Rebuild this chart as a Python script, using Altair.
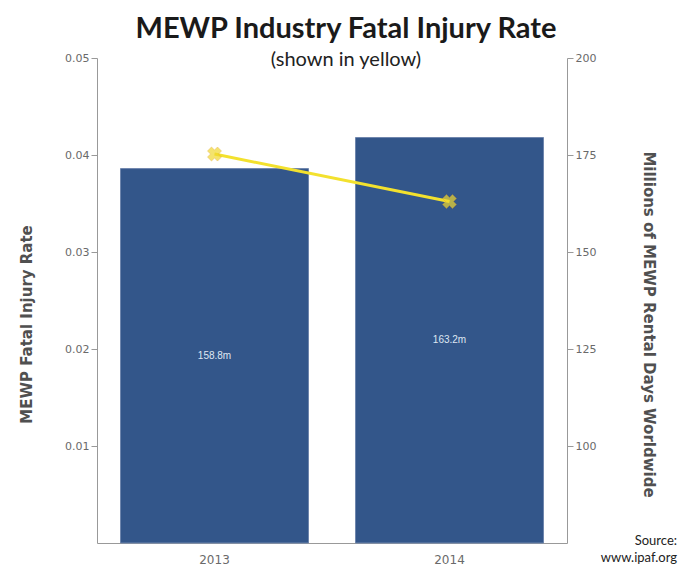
import altair as alt
import pandas as pd

years = ["2013", "2014"]
rental_days = [171.5, 179.5]          # millions of MEWP rental days (right axis, bars)
bar_labels = ["158.8m", "163.2m"]
fatal_rate = [0.0401, 0.0352]         # fatal injury rate (left axis, line)

bars_df = pd.DataFrame({"Year": years, "Days": rental_days, "Label": bar_labels})
line_df = pd.DataFrame({"Year": years, "Rate": fatal_rate})

W, H = 470, 485

x_enc = alt.X(
    "Year:N",
    scale=alt.Scale(paddingInner=0.2, paddingOuter=0.1),
    axis=alt.Axis(title=None, labelAngle=0, labelColor="#6a6a6a", labelFontSize=12,
                  labelFont="DejaVu Sans", domainColor="#999999", ticks=False,
                  labelPadding=11),
)

right_axis = alt.Axis(orient="right", values=[100, 125, 150, 175, 200],
                      title="Millions of MEWP Rental Days Worldwide",
                      titleFontSize=15, titleFont="DejaVu Sans", titleColor="#505050",
                      titleFontWeight="bold", titlePadding=45, titleY=266,
                      labelColor="#6a6a6a", labelFontSize=11, labelFont="DejaVu Sans",
                      domainColor="#999999", tickColor="#999999", tickSize=6, grid=False)
left_axis = alt.Axis(orient="left", values=[0.01, 0.02, 0.03, 0.04, 0.05], format=".2f",
                     title="MEWP Fatal Injury Rate",
                     titleFontSize=15, titleFont="DejaVu Sans", titleColor="#505050",
                     titleFontWeight="bold", titlePadding=30, titleY=266,
                     labelColor="#6a6a6a", labelFontSize=11, labelFont="DejaVu Sans",
                     domainColor="#999999", tickColor="#999999", tickSize=6, grid=False)

right_scale = alt.Scale(domain=[75, 200], zero=False, nice=False)
left_scale = alt.Scale(domain=[0, 0.05], nice=False)

bars = alt.Chart(bars_df).mark_bar(color="#33568a", stroke="#6f86ad", strokeWidth=1).encode(
    x=x_enc,
    y=alt.Y("Days:Q", scale=right_scale, axis=right_axis),
    y2=alt.Y2(datum=75),
)

labels = alt.Chart(bars_df).transform_calculate(mid="(datum.Days + 75) / 2").mark_text(
    color="#dfe6f2", fontSize=10, font="Liberation Sans"
).encode(
    x=alt.X("Year:N"),
    y=alt.Y("mid:Q", scale=right_scale, axis=right_axis),
    text="Label:N",
)

right_layer = alt.layer(bars, labels)

line = alt.Chart(line_df).mark_line(color="#f3e12e", strokeWidth=3).encode(
    x=alt.X("Year:N"),
    y=alt.Y("Rate:Q", scale=left_scale, axis=left_axis),
)

points = alt.Chart(line_df).mark_point(
    shape="cross", angle=45, size=200, filled=True, color="#f0d830", stroke="#e0a020", strokeWidth=0.5
).encode(
    x=alt.X("Year:N"),
    y=alt.Y("Rate:Q", scale=left_scale, axis=left_axis),
)

left_layer = alt.layer(line, points)

source = alt.Chart(pd.DataFrame({"t": [["Source:", "www.ipaf.org"]]})).mark_text(
    align="right", baseline="top", fontSize=13, font="Lato", color="#222222", lineHeight=17
).encode(
    x=alt.value(W + 110), y=alt.value(H - 8), text="t"
)

chart = alt.layer(right_layer, left_layer, source).resolve_scale(y="independent").properties(
    width=W,
    height=H,
    title=alt.TitleParams(
        "MEWP Industry Fatal Injury Rate",
        subtitle="(shown in yellow)",
        font="Lato", fontSize=29, fontWeight="bold", color="#1a1a1a",
        subtitleFont="Lato", subtitleFontSize=20, subtitleColor="#222222",
        subtitlePadding=6, anchor="middle", dx=14, offset=-18,
    ),
    autosize=alt.AutoSizeParams(type="none"),
    padding={"left": 89, "top": 50, "right": 111, "bottom": 22},
).configure(background="white").configure_view(stroke=None)

chart.save("out.html", embed_options={"renderer": "svg", "actions": False})
